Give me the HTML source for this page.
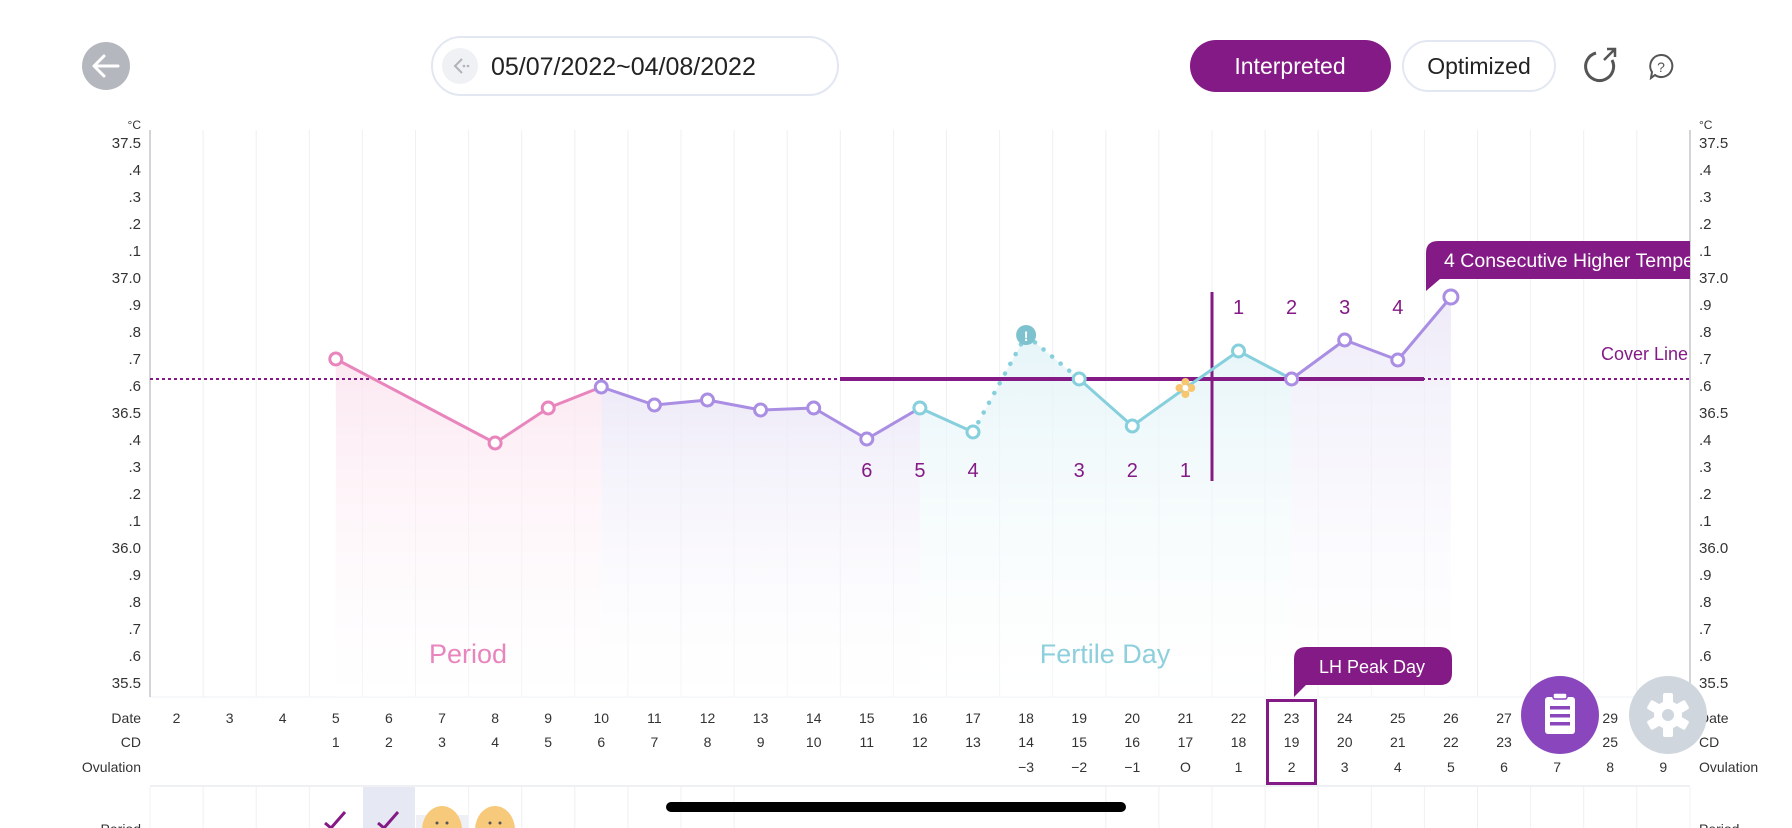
<!DOCTYPE html>
<html><head><meta charset="utf-8"><style>
html,body{margin:0;padding:0;background:#fff;width:1792px;height:828px;overflow:hidden}
svg{display:block;font-family:"Liberation Sans",sans-serif}
</style></head><body>
<svg width="1792" height="828" viewBox="0 0 1792 828" xmlns="http://www.w3.org/2000/svg">
<defs>
<linearGradient id="gp" x1="0" y1="0" x2="0" y2="1"><stop offset="0" stop-color="#fbe2ee" stop-opacity="0.8"/><stop offset="1" stop-color="#fff" stop-opacity="0.3"/></linearGradient>
<linearGradient id="gv" x1="0" y1="0" x2="0" y2="1"><stop offset="0" stop-color="#ebe7f7" stop-opacity="0.85"/><stop offset="1" stop-color="#fff" stop-opacity="0.3"/></linearGradient>
<linearGradient id="gt" x1="0" y1="0" x2="0" y2="1"><stop offset="0" stop-color="#e2f3f7" stop-opacity="0.85"/><stop offset="1" stop-color="#fff" stop-opacity="0.3"/></linearGradient>
<clipPath id="cc"><rect x="1426" y="230" width="264" height="70"/></clipPath>
</defs>
<!-- header -->
<circle cx="106" cy="66" r="24" fill="#b4b7bd"/>
<path d="M118 66H95M104 56L94 66L104 76" stroke="#fff" stroke-width="3" fill="none" stroke-linecap="round" stroke-linejoin="round"/>
<rect x="432" y="37" width="406" height="58" rx="29" fill="#fff" stroke="#e3e7f2" stroke-width="2"/>
<circle cx="460" cy="66" r="18" fill="#f0f1f5"/>
<path d="M462 59L455 66L462 73" stroke="#b0b3ba" stroke-width="2" fill="none"/><circle cx="464" cy="66" r="1.3" fill="#b0b3ba"/><circle cx="468" cy="66" r="1.3" fill="#b0b3ba"/>
<text x="491" y="75" font-size="25" fill="#222">05/07/2022~04/08/2022</text>
<rect x="1190" y="40" width="201" height="52" rx="26" fill="#841a85"/>
<text x="1290" y="74" font-size="23" fill="#fff" text-anchor="middle">Interpreted</text>
<rect x="1403" y="41" width="152" height="50" rx="25" fill="#fff" stroke="#e3e7f2" stroke-width="2"/>
<text x="1479" y="74" font-size="23" fill="#222" text-anchor="middle">Optimized</text>
<path d="M1596 53A14 14 0 1 0 1612 60" stroke="#555" stroke-width="3" fill="none"/><path d="M1604 60L1614 50M1607 49H1615V57" stroke="#555" stroke-width="2.5" fill="none"/>
<path d="M1661 55a11 11 0 1 1 -6 20l-4 3l1 -6a11 11 0 0 1 9 -17z" stroke="#555" stroke-width="2" fill="none"/>
<text x="1661" y="72" font-size="14" fill="#555" text-anchor="middle">?</text>
<!-- grid -->
<g stroke="#eef0f3" stroke-width="1">
<line x1="203.1" y1="130" x2="203.1" y2="697"/><line x1="256.2" y1="130" x2="256.2" y2="697"/><line x1="309.3" y1="130" x2="309.3" y2="697"/><line x1="362.4" y1="130" x2="362.4" y2="697"/><line x1="415.5" y1="130" x2="415.5" y2="697"/><line x1="468.6" y1="130" x2="468.6" y2="697"/><line x1="521.7" y1="130" x2="521.7" y2="697"/><line x1="574.8" y1="130" x2="574.8" y2="697"/><line x1="627.9" y1="130" x2="627.9" y2="697"/><line x1="681" y1="130" x2="681" y2="697"/><line x1="734.1" y1="130" x2="734.1" y2="697"/><line x1="787.2" y1="130" x2="787.2" y2="697"/><line x1="840.3" y1="130" x2="840.3" y2="697"/><line x1="893.4" y1="130" x2="893.4" y2="697"/><line x1="946.5" y1="130" x2="946.5" y2="697"/><line x1="999.6" y1="130" x2="999.6" y2="697"/><line x1="1052.7" y1="130" x2="1052.7" y2="697"/><line x1="1105.8" y1="130" x2="1105.8" y2="697"/><line x1="1158.9" y1="130" x2="1158.9" y2="697"/><line x1="1212" y1="130" x2="1212" y2="697"/><line x1="1265.1" y1="130" x2="1265.1" y2="697"/><line x1="1318.2" y1="130" x2="1318.2" y2="697"/><line x1="1371.3" y1="130" x2="1371.3" y2="697"/><line x1="1424.4" y1="130" x2="1424.4" y2="697"/><line x1="1477.5" y1="130" x2="1477.5" y2="697"/><line x1="1530.6" y1="130" x2="1530.6" y2="697"/><line x1="1583.7" y1="130" x2="1583.7" y2="697"/><line x1="1636.8" y1="130" x2="1636.8" y2="697"/>
<line x1="150" y1="697" x2="1690" y2="697"/>
</g>
<line x1="150" y1="130" x2="150" y2="697" stroke="#c4c6cc" stroke-width="1.5"/>
<line x1="1690" y1="130" x2="1690" y2="697" stroke="#c4c6cc" stroke-width="1.5"/>
<!-- fills -->
<polygon points="335.8,359 495.1,443 548.2,408 601.3,387 601.3,697 335.8,697" fill="url(#gp)"/>
<polygon points="601.3,387 654.4,405 707.5,400 760.6,410 813.7,408 866.8,439 919.9,408 919.9,697 601.3,697" fill="url(#gv)"/>
<polygon points="919.9,408 973,432 1026.1,335 1079.2,379 1132.3,426 1185.4,388 1238.5,351 1291.6,379 1291.6,697 919.9,697" fill="url(#gt)"/>
<polygon points="1291.6,379 1344.7,340 1397.8,360 1450.9,297 1450.9,697 1291.6,697" fill="url(#gv)"/>
<!-- y labels -->
<g font-size="15" fill="#333" text-anchor="end">
<text x="141" y="129" font-size="12">°C</text>
<text x="141" y="148">37.5</text><text x="141" y="175">.4</text><text x="141" y="202">.3</text><text x="141" y="229">.2</text><text x="141" y="256">.1</text><text x="141" y="283">37.0</text><text x="141" y="310">.9</text><text x="141" y="337">.8</text><text x="141" y="364">.7</text><text x="141" y="391">.6</text><text x="141" y="418">36.5</text><text x="141" y="445">.4</text><text x="141" y="472">.3</text><text x="141" y="499">.2</text><text x="141" y="526">.1</text><text x="141" y="553">36.0</text><text x="141" y="580">.9</text><text x="141" y="607">.8</text><text x="141" y="634">.7</text><text x="141" y="661">.6</text><text x="141" y="688">35.5</text>
</g>
<g font-size="15" fill="#333">
<text x="1699" y="129" font-size="12">°C</text>
<text x="1699" y="148">37.5</text><text x="1699" y="175">.4</text><text x="1699" y="202">.3</text><text x="1699" y="229">.2</text><text x="1699" y="256">.1</text><text x="1699" y="283">37.0</text><text x="1699" y="310">.9</text><text x="1699" y="337">.8</text><text x="1699" y="364">.7</text><text x="1699" y="391">.6</text><text x="1699" y="418">36.5</text><text x="1699" y="445">.4</text><text x="1699" y="472">.3</text><text x="1699" y="499">.2</text><text x="1699" y="526">.1</text><text x="1699" y="553">36.0</text><text x="1699" y="580">.9</text><text x="1699" y="607">.8</text><text x="1699" y="634">.7</text><text x="1699" y="661">.6</text><text x="1699" y="688">35.5</text>
</g>
<!-- cover line -->
<line x1="150" y1="379" x2="1690" y2="379" stroke="#841a85" stroke-width="2" stroke-dasharray="3,3"/>
<line x1="840" y1="379" x2="1424" y2="379" stroke="#841a85" stroke-width="4"/>
<line x1="1212" y1="292" x2="1212" y2="481" stroke="#841a85" stroke-width="3"/>
<text x="1688" y="360" font-size="18" fill="#841a85" text-anchor="end">Cover Line</text>
<!-- lines -->
<g fill="none" stroke-width="3" stroke-linejoin="round">
<polyline points="335.8,359 495.1,443 548.2,408 601.3,387" stroke="#e985bd"/>
<polyline points="601.3,387 654.4,405 707.5,400 760.6,410 813.7,408 866.8,439 919.9,408" stroke="#a98ee3"/>
<polyline points="919.9,408 973,432" stroke="#86cfdc"/>
<polyline points="973,432 1026.1,335 1079.2,379" stroke="#86cfdc" stroke-dasharray="0.1,11" stroke-linecap="round" stroke-width="4.5"/>
<polyline points="1079.2,379 1132.3,426 1185.4,388 1238.5,351 1291.6,379" stroke="#86cfdc"/>
<polyline points="1291.6,379 1344.7,340 1397.8,360 1450.9,297" stroke="#a98ee3"/>
</g>
<g fill="#fff" stroke-width="3">
<circle cx="335.8" cy="359" r="6" stroke="#e985bd"/><circle cx="495.1" cy="443" r="6" stroke="#e985bd"/><circle cx="548.2" cy="408" r="6" stroke="#e985bd"/>
<circle cx="601.3" cy="387" r="6" stroke="#a98ee3"/><circle cx="654.4" cy="405" r="6" stroke="#a98ee3"/><circle cx="707.5" cy="400" r="6" stroke="#a98ee3"/><circle cx="760.6" cy="410" r="6" stroke="#a98ee3"/><circle cx="813.7" cy="408" r="6" stroke="#a98ee3"/><circle cx="866.8" cy="439" r="6" stroke="#a98ee3"/>
<circle cx="919.9" cy="408" r="6" stroke="#86cfdc"/><circle cx="973" cy="432" r="6" stroke="#86cfdc"/><circle cx="1079.2" cy="379" r="6" stroke="#86cfdc"/><circle cx="1132.3" cy="426" r="6" stroke="#86cfdc"/><circle cx="1238.5" cy="351" r="6" stroke="#86cfdc"/>
<circle cx="1291.6" cy="379" r="6" stroke="#a98ee3"/><circle cx="1344.7" cy="340" r="6" stroke="#a98ee3"/><circle cx="1397.8" cy="360" r="6" stroke="#a98ee3"/><circle cx="1450.9" cy="297" r="7" stroke="#a98ee3"/>
</g>
<circle cx="1026.1" cy="335" r="10" fill="#7fc2cf"/><text x="1026.1" y="341" font-size="14" font-weight="bold" fill="#fff" text-anchor="middle">!</text>
<g fill="#f7c66f"><circle cx="1185.4" cy="382" r="4"/><circle cx="1185.4" cy="394" r="4"/><circle cx="1179.5" cy="388" r="4"/><circle cx="1191.3" cy="388" r="4"/></g><circle cx="1185.4" cy="388" r="3" fill="#fff"/>
<!-- counts -->
<g font-size="20" fill="#841a85" text-anchor="middle">
<text x="866.8" y="477">6</text><text x="919.9" y="477">5</text><text x="973" y="477">4</text><text x="1079.2" y="477">3</text><text x="1132.3" y="477">2</text><text x="1185.4" y="477">1</text>
<text x="1238.5" y="314">1</text><text x="1291.6" y="314">2</text><text x="1344.7" y="314">3</text><text x="1397.8" y="314">4</text>
</g>
<!-- callout -->
<path d="M1438 241H1690V279H1440L1426 291V253Q1426 241 1438 241Z" fill="#841a85"/>
<text x="1444" y="267" font-size="19.5" fill="#fff" clip-path="url(#cc)">4 Consecutive Higher Temperatures</text>
<text x="468" y="663" font-size="27" fill="#e985bd" text-anchor="middle">Period</text>
<text x="1105" y="663" font-size="27" fill="#8ecfdc" text-anchor="middle">Fertile Day</text>
<!-- LH -->
<path d="M1306 647H1440Q1452 647 1452 659V673Q1452 685 1440 685H1306L1294 697V659Q1294 647 1306 647Z" fill="#841a85"/>
<text x="1372" y="673" font-size="18" fill="#fff" text-anchor="middle">LH Peak Day</text>
<rect x="1267.5" y="700.5" width="48" height="83" fill="none" stroke="#841a85" stroke-width="3"/>
<!-- bottom rows -->
<g font-size="14" fill="#333" text-anchor="end"><text x="141" y="723">Date</text><text x="141" y="747">CD</text><text x="141" y="772">Ovulation</text></g>
<g font-size="14" fill="#333"><text x="1699" y="723">Date</text><text x="1699" y="747">CD</text><text x="1699" y="772">Ovulation</text></g>
<g font-size="14" fill="#333" text-anchor="middle">
<text x="176.5" y="723">2</text><text x="229.6" y="723">3</text><text x="282.7" y="723">4</text><text x="335.8" y="723">5</text><text x="388.9" y="723">6</text><text x="442" y="723">7</text><text x="495.1" y="723">8</text><text x="548.2" y="723">9</text><text x="601.3" y="723">10</text><text x="654.4" y="723">11</text><text x="707.5" y="723">12</text><text x="760.6" y="723">13</text><text x="813.7" y="723">14</text><text x="866.8" y="723">15</text><text x="919.9" y="723">16</text><text x="973" y="723">17</text><text x="1026.1" y="723">18</text><text x="1079.2" y="723">19</text><text x="1132.3" y="723">20</text><text x="1185.4" y="723">21</text><text x="1238.5" y="723">22</text><text x="1291.6" y="723">23</text><text x="1344.7" y="723">24</text><text x="1397.8" y="723">25</text><text x="1450.9" y="723">26</text><text x="1504" y="723">27</text><text x="1610.2" y="723">29</text>
<text x="335.8" y="747">1</text><text x="388.9" y="747">2</text><text x="442" y="747">3</text><text x="495.1" y="747">4</text><text x="548.2" y="747">5</text><text x="601.3" y="747">6</text><text x="654.4" y="747">7</text><text x="707.5" y="747">8</text><text x="760.6" y="747">9</text><text x="813.7" y="747">10</text><text x="866.8" y="747">11</text><text x="919.9" y="747">12</text><text x="973" y="747">13</text><text x="1026.1" y="747">14</text><text x="1079.2" y="747">15</text><text x="1132.3" y="747">16</text><text x="1185.4" y="747">17</text><text x="1238.5" y="747">18</text><text x="1291.6" y="747">19</text><text x="1344.7" y="747">20</text><text x="1397.8" y="747">21</text><text x="1450.9" y="747">22</text><text x="1504" y="747">23</text><text x="1610.2" y="747">25</text>
<text x="1026.1" y="772">−3</text><text x="1079.2" y="772">−2</text><text x="1132.3" y="772">−1</text><text x="1185.4" y="772">O</text><text x="1238.5" y="772">1</text><text x="1291.6" y="772">2</text><text x="1344.7" y="772">3</text><text x="1397.8" y="772">4</text><text x="1450.9" y="772">5</text><text x="1504" y="772">6</text><text x="1557.1" y="772">7</text><text x="1610.2" y="772">8</text><text x="1663.3" y="772">9</text>
</g>
<line x1="150" y1="786" x2="1690" y2="786" stroke="#eef0f3" stroke-width="2"/>
<rect x="363" y="787" width="52" height="41" fill="#e6e9f3"/>
<rect x="416" y="815" width="52" height="13" fill="#eef0f6"/>
<g stroke="#eef0f3"><line x1="150" y1="787" x2="150" y2="828"/><line x1="203.1" y1="787" x2="203.1" y2="828"/><line x1="256.2" y1="787" x2="256.2" y2="828"/><line x1="309.3" y1="787" x2="309.3" y2="828"/><line x1="468.6" y1="787" x2="468.6" y2="828"/><line x1="521.7" y1="787" x2="521.7" y2="828"/><line x1="574.8" y1="787" x2="574.8" y2="828"/><line x1="627.9" y1="787" x2="627.9" y2="828"/><line x1="681" y1="787" x2="681" y2="828"/><line x1="734.1" y1="787" x2="734.1" y2="828"/><line x1="1105.8" y1="787" x2="1105.8" y2="828"/><line x1="1158.9" y1="787" x2="1158.9" y2="828"/><line x1="1212" y1="787" x2="1212" y2="828"/><line x1="1265.1" y1="787" x2="1265.1" y2="828"/><line x1="1318.2" y1="787" x2="1318.2" y2="828"/><line x1="1371.3" y1="787" x2="1371.3" y2="828"/><line x1="1424.4" y1="787" x2="1424.4" y2="828"/><line x1="1477.5" y1="787" x2="1477.5" y2="828"/><line x1="1530.6" y1="787" x2="1530.6" y2="828"/><line x1="1583.7" y1="787" x2="1583.7" y2="828"/><line x1="1636.8" y1="787" x2="1636.8" y2="828"/><line x1="1690" y1="787" x2="1690" y2="828"/></g>
<path d="M325 823L331 828M331 828L345 812" stroke="#841a85" stroke-width="3" fill="none"/>
<path d="M378 823L384 828M384 828L398 812" stroke="#841a85" stroke-width="3" fill="none"/>
<ellipse cx="442" cy="830" rx="20" ry="24" fill="#f7c97a"/><circle cx="437" cy="823" r="1.5" fill="#555"/><circle cx="447" cy="823" r="1.5" fill="#555"/>
<ellipse cx="495" cy="830" rx="20" ry="24" fill="#f7c97a"/><circle cx="490" cy="823" r="1.5" fill="#555"/><circle cx="500" cy="823" r="1.5" fill="#555"/>
<text x="141" y="834" font-size="14" fill="#333" text-anchor="end">Period</text>
<text x="1699" y="834" font-size="14" fill="#333">Period</text>
<rect x="666" y="802" width="460" height="10" rx="5" fill="#000"/>
<!-- floating buttons -->
<circle cx="1560" cy="715" r="39" fill="#8a47bd"/>
<rect x="1545" y="697" width="30" height="37" rx="3" fill="#fff"/><rect x="1553" y="693" width="14" height="6" rx="2" fill="#fff" stroke="#8a47bd" stroke-width="1.5"/>
<rect x="1550" y="706" width="20" height="3.5" fill="#8a47bd"/><rect x="1550" y="714" width="20" height="3.5" fill="#8a47bd"/><rect x="1550" y="722" width="20" height="3.5" fill="#8a47bd"/>
<circle cx="1668" cy="715" r="39" fill="#d0d6de"/>
<g fill="#fff"><circle cx="1668" cy="715" r="14"/><rect x="1663" y="693" width="10" height="44" rx="2"/><rect x="1663" y="693" width="10" height="44" rx="2" transform="rotate(60 1668 715)"/><rect x="1663" y="693" width="10" height="44" rx="2" transform="rotate(120 1668 715)"/></g>
<circle cx="1668" cy="715" r="6" fill="#d0d6de"/>
</svg>
</body></html>
